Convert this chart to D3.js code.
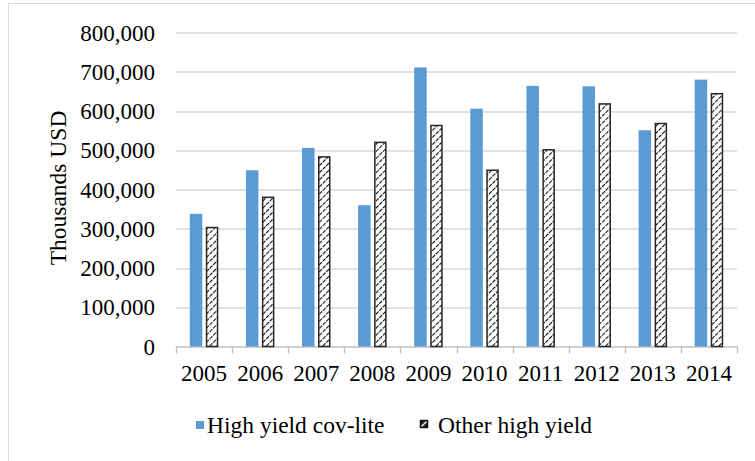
<!DOCTYPE html>
<html>
<head>
<meta charset="utf-8">
<script src="https://cdn.jsdelivr.net/npm/d3@7"></script>
<style>
  body { margin: 0; background: #fff; }
  text { font-family: "Liberation Serif", "Times New Roman", serif; fill: #000; }
</style>
</head>
<body>
<div id="chart"></div>
<script>
// data
var years = ["2005", "2006", "2007", "2008", "2009", "2010", "2011", "2012", "2013", "2014"];
var covLite = [338000, 449000, 506000, 360000, 711000, 606000, 664000, 663000, 551000, 680000];
var otherHY = [305000, 382000, 485000, 522000, 565000, 451000, 503000, 620000, 570000, 646000];
var seriesNames = ["High yield cov-lite", "Other high yield"];
var yTicks = [0, 100000, 200000, 300000, 400000, 500000, 600000, 700000, 800000];

var W = 755, H = 461;
var margin = {top: 32.5, right: 18, bottom: 114.5, left: 176};
var width = W - margin.left - margin.right;
var height = H - margin.top - margin.bottom;

var svg = d3.select("#chart").append("svg")
    .attr("width", W)
    .attr("height", H);

// hatch pattern for the second series
var defs = svg.append("defs");
var pat = defs.append("pattern")
    .attr("id", "hatch")
    .attr("patternUnits", "userSpaceOnUse")
    .attr("width", 5).attr("height", 5)
    .attr("patternTransform", "rotate(45)");
pat.append("rect").attr("width", 5).attr("height", 5).attr("fill", "#fff");
pat.append("line")
    .attr("x1", 0).attr("y1", 0).attr("x2", 0).attr("y2", 5)
    .attr("stroke", "#111").attr("stroke-width", 2.2)
    .attr("stroke-dasharray", "3,1");

// outer frame (only left and top visible)
svg.append("path")
    .attr("d", "M8.5," + H + "V3.5H" + W)
    .attr("fill", "none")
    .attr("stroke", "#d9d9d9");

var g = svg.append("g")
    .attr("transform", "translate(" + margin.left + "," + margin.top + ")");

var x = d3.scaleBand().domain(years).range([0, width]);
var y = d3.scaleLinear().domain([0, 800000]).range([height, 0]);

// gridlines
g.append("g").selectAll("line").data(yTicks.slice(1)).enter()
    .append("line")
    .attr("x1", 0).attr("x2", width)
    .attr("y1", function(d) { return Math.round(y(d)) + 0.5; })
    .attr("y2", function(d) { return Math.round(y(d)) + 0.5; })
    .attr("stroke", "#d9d9d9").attr("stroke-width", 1.3);

// y tick labels
g.append("g").selectAll("text").data(yTicks).enter()
    .append("text")
    .attr("x", -21)
    .attr("y", function(d) { return y(d); })
    .attr("dy", "0.35em")
    .attr("text-anchor", "end")
    .style("font-size", "23px")
    .text(function(d) { return d === 0 ? "0" : d3.format(",")(d); });

// x axis
var xAxis = d3.axisBottom(x).tickSize(0).tickPadding(0);
var xg = g.append("g").attr("transform", "translate(0," + height + ")").call(xAxis);
xg.select(".domain").remove();
xg.selectAll("text").attr("dy", 0).attr("y", 34).style("font-size", "23px")
    .style("font-family", "Liberation Serif").attr("fill", "#000");
xg.append("line").attr("x1", 0).attr("x2", width).attr("y1", 0.5).attr("y2", 0.5)
    .attr("stroke", "#bfbfbf").attr("stroke-width", 1.3);
xg.selectAll(".sep").data(d3.range(years.length + 1)).enter()
    .append("line")
    .attr("x1", function(i) { return Math.round(i * x.step()) + 0.5; })
    .attr("x2", function(i) { return Math.round(i * x.step()) + 0.5; })
    .attr("y1", 0).attr("y2", 7)
    .attr("stroke", "#bfbfbf").attr("stroke-width", 1.3);

// bars
var barW = 12.5, gap = 3.5;
var bars = g.append("g");
bars.selectAll(".cov").data(years).enter()
    .append("rect")
    .attr("x", function(d) { return x(d) + x.bandwidth() / 2 - gap / 2 - barW; })
    .attr("y", function(d, i) { return y(covLite[i]); })
    .attr("width", barW)
    .attr("height", function(d, i) { return height - y(covLite[i]); })
    .attr("fill", "#5b9bd5");
bars.selectAll(".oth").data(years).enter()
    .append("rect")
    .attr("x", function(d) { return x(d) + x.bandwidth() / 2 + gap / 2 + 0.75; })
    .attr("y", function(d, i) { return y(otherHY[i]) + 0.75; })
    .attr("width", barW - 1.5)
    .attr("height", function(d, i) { return height - y(otherHY[i]) - 0.75; })
    .attr("fill", "url(#hatch)")
    .attr("stroke", "#262626").attr("stroke-width", 1.5);

// y axis title
svg.append("text")
    .attr("transform", "translate(66,188) rotate(-90)")
    .attr("text-anchor", "middle")
    .style("font-size", "23.5px")
    .text("Thousands USD");

// legend
var legend = svg.append("g");
legend.append("rect").attr("x", 196).attr("y", 421).attr("width", 8).attr("height", 8)
    .attr("fill", "#5b9bd5");
legend.append("text").attr("x", 207).attr("y", 433).style("font-size", "23.5px").text(seriesNames[0]);
legend.append("rect").attr("x", 420.5).attr("y", 420.5).attr("width", 7).attr("height", 7)
    .attr("fill", "#222").attr("stroke", "#111").attr("stroke-width", 1.5);
legend.append("line").attr("x1", 421.5).attr("y1", 426.5).attr("x2", 426.5).attr("y2", 421.5)
    .attr("stroke", "#fff").attr("stroke-width", 1.2);
legend.append("text").attr("x", 438).attr("y", 433).style("font-size", "23.5px").text(seriesNames[1]);
</script>
</body>
</html>
